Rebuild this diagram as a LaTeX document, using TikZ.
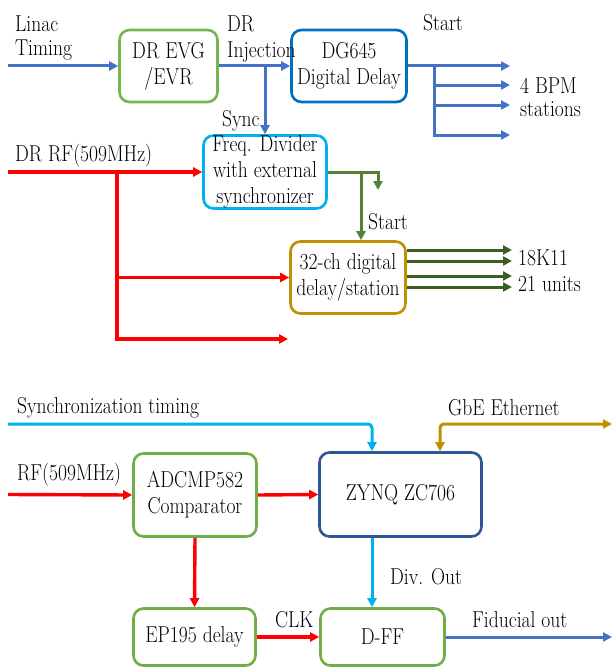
\documentclass[tikz,border=0pt]{standalone}
\usepackage{fontspec}
\usetikzlibrary{arrows.meta}
\definecolor{topblue}{HTML}{4472C4}
\definecolor{evgc}{HTML}{77B54E}
\definecolor{dgc}{HTML}{0070C0}
\definecolor{cyanc}{HTML}{00B0F0}
\definecolor{goldc}{HTML}{BF9000}
\definecolor{gone}{HTML}{548235}
\definecolor{gtwo}{HTML}{3B5E22}
\definecolor{redc}{HTML}{FF0000}
\definecolor{zynqc}{HTML}{2F5597}
\definecolor{bgreen}{HTML}{70AD47}
\newcommand\dgfont{\fontsize{23}{26}\selectfont}
\begin{document}
\begin{tikzpicture}[x=1pt,y=-1pt,
  box/.style={draw, line width=2.6pt, rounded corners=10pt, inner sep=0pt, fill=white},
  txt/.style={font=\dgfont, align=center, inner sep=0pt, xscale=0.85, transform shape},
  lbl/.style={font=\dgfont, inner sep=0pt, anchor=base west, xscale=0.85, transform shape},
  tip/.style={-{Triangle[length=9pt,width=9pt]}},
  conn/.style={line width=3pt},
  redline/.style={conn, draw=redc, line width=3.4pt}]
\useasboundingbox (0,0) rectangle (613,669);

% boxes
\node[box, draw=evgc, minimum width=98pt, minimum height=72pt] (evg) at (168.5,66) {};
\node[box, draw=dgc, minimum width=115pt, minimum height=72pt] (dg) at (349,66) {};
\node[box, draw=cyanc, minimum width=123pt, minimum height=73pt] (freq) at (265,172) {};
\node[box, draw=goldc, minimum width=115pt, minimum height=72pt] (c32) at (348,277.5) {};
\node[box, draw=bgreen, minimum width=123pt, minimum height=83pt] (adc) at (195,495) {};
\node[box, draw=zynqc, minimum width=162pt, minimum height=84pt] (zynq) at (400.5,494.5) {};
\node[box, draw=bgreen, minimum width=122pt, minimum height=57pt] (ep) at (194.5,637) {};
\node[box, draw=bgreen, minimum width=124pt, minimum height=57pt] (dff) at (382.5,637) {};

% box texts
\node[txt] (tevg) at (evg.center) {DR EVG\\/EVR};
\node[txt] (tdg) at (dg.center) {DG645\\Digital Delay};
\node[txt] (tfreq) at (freq.center) {Freq. Divider\\with external\\synchronizer};
\node[txt] (tc32) at (c32.center) {32-ch digital\\delay/station};
\node[txt] (tadc) at (adc.center) {ADCMP582\\Comparator};
\node[txt] (tzynq) at (zynq.center) {ZYNQ ZC706};
\node[txt] (tep) at (ep.center) {EP195 delay};
\node[txt] (tdff) at (dff.center) {D-FF};

% top blue connectors
\coordinate (lin) at (8,66);
\draw[conn, topblue, tip] (lin) -- (evg.west);
\draw[conn, topblue, tip] (evg.east) -- (dg.west);
\draw[conn, topblue, tip] (evg.east -| freq.north) -- (freq.north);
\coordinate (bt) at (434,66);
\coordinate (o1) at (510,66);
\coordinate (o2) at (510,85);
\coordinate (o3) at (510,105);
\coordinate (o4) at (510,135);
\draw[conn, topblue, tip] (dg.east) -- (o1);
\draw[conn, topblue, tip] (bt |- o2) -- (o2);
\draw[conn, topblue, tip] (bt |- o3) -- (o3);
\draw[conn, topblue, tip] (bt) |- (o4);

% red top
\coordinate (rf) at (8,172);
\coordinate (rt) at (117,172);
\coordinate (rend) at (288,339);
\draw[redline, tip] (rf) -- (freq.west);
\draw[redline, tip] (rt) |- (rend);
\draw[redline, tip] (rt |- c32.west) -- (c32.west);

% green
\coordinate (gend) at (378,190);
\coordinate (gb) at (361,172);
\draw[conn, draw=gone, tip] (freq.east) -| (gend);
\draw[conn, draw=gone, tip] (gb) -- (gb |- c32.north);
\coordinate (q1) at (512,250);
\coordinate (q2) at (512,261);
\coordinate (q3) at (512,276);
\coordinate (q4) at (512,287);
\foreach \q in {q1,q2,q3,q4}
  \draw[conn, draw=gtwo, tip] (c32.east |- \q) -- (\q);

% bottom
\coordinate (st) at (8,424);
\coordinate (zx) at (372,424);
\coordinate (gx) at (440,424);
\coordinate (ge) at (612,424);
\draw[conn, draw=cyanc, tip, rounded corners=4pt] (st) -| (zynq.north -| zx);
\draw[conn, draw=goldc, {Triangle[length=9pt,width=9pt]}-{Triangle[length=9pt,width=9pt]}, rounded corners=4pt] (zynq.north -| gx) |- (ge);
\coordinate (rf2) at (8,494.5);
\draw[redline, tip] (rf2) -- (adc.west);
\draw[redline, tip] (adc.east) -- (zynq.west);
\draw[redline, tip] (adc.south) -- (ep.north);
\draw[conn, draw=cyanc, tip] (zynq.south -| zx) -- (dff.north -| zx);
\draw[redline, tip] (ep.east) -- (dff.west);
\coordinate (fo) at (612,637);
\draw[conn, topblue, tip] (dff.east) -- (fo);

% labels
\node[lbl] (l1) at (15,32) {Linac};
\node[lbl] (l2) at (15,56) {Timing};
\node[lbl] (l3) at (227,32) {DR};
\node[lbl] (l4) at (227,57) {Injection};
\node[lbl] (l5) at (222,126) {Sync};
\node[lbl] (l6) at (423,31) {Start};
\node[lbl] (l7) at (520,93) {4 BPM};
\node[lbl] (l8) at (520,116) {stations};
\node[lbl] (l9) at (15,161) {DR RF(509MHz)};
\node[lbl] (l10) at (368,229) {Start};
\node[lbl] (l11) at (518,265) {18K11};
\node[lbl] (l12) at (518,291) {21 units};
\node[lbl] (l13) at (17,413) {Synchronization timing};
\node[lbl] (l14) at (448,415) {GbE Ethernet};
\node[lbl] (l15) at (17,480) {RF(509MHz)};
\node[lbl] (l16) at (275,627) {CLK};
\node[lbl] (l17) at (390,584) {Div. Out};
\node[lbl] (l18) at (472,627) {Fiducial out};
\end{tikzpicture}
\end{document}
